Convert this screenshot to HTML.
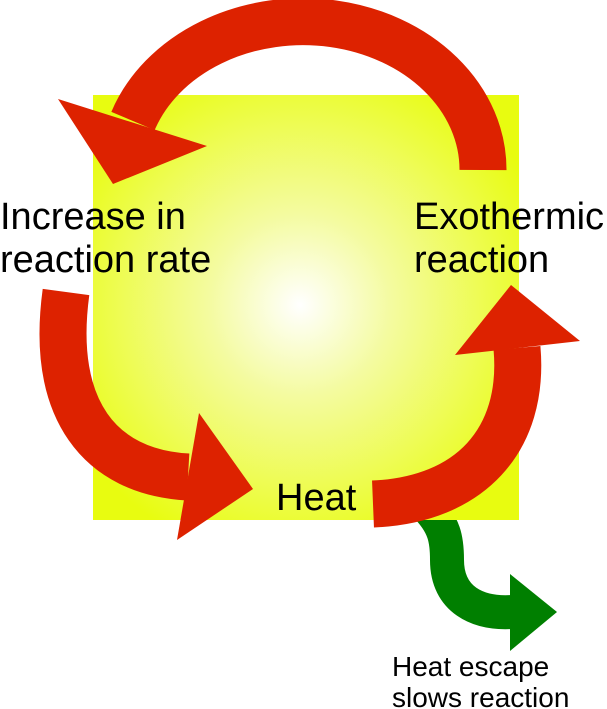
<!DOCTYPE html>
<html><head><style>
body{margin:0;background:#fff;}
svg{display:block}
text{font-family:"Liberation Sans",sans-serif;fill:#000}
</style></head><body>
<svg width="607" height="709" viewBox="0 0 607 709">
<defs>
<radialGradient id="g" cx="300" cy="305" r="260" gradientUnits="userSpaceOnUse">
<stop offset="0" stop-color="#ffffff"/>
<stop offset="0.35" stop-color="#f4fba0"/>
<stop offset="1" stop-color="#e8fc10"/>
</radialGradient>
</defs>
<path d="M425,505 C445,525 447,540 447,560 C447,600 478,614 512,612" fill="none" stroke="#007f00" stroke-width="34"/>
<polygon points="510,574 557,612 510,651" fill="#007f00"/>
<rect x="93" y="95" width="426" height="425" fill="url(#g)"/>
<g fill="none" stroke="#dd2200" stroke-width="47">
<path d="M483,170 A180,148 0 0 0 133,121"/>
<path d="M66,292 C50,410 100,472 188,477"/>
<path d="M373,504 C470,500 525,440 517,348"/>
</g>
<g fill="#dd2200">
<polygon points="58,99 113,184 207,146"/>
<polygon points="199,413 253,489 177,540"/>
<polygon points="455,355 511,285 580,341"/>
</g>
<g font-size="38">
<text x="0" y="229">Increase in</text>
<text x="0" y="272">reaction rate</text>
<text x="414" y="229">Exothermic</text>
<text x="414" y="272">reaction</text>
<text x="276" y="510">Heat</text>
</g>
<g font-size="28">
<text x="392" y="676">Heat escape</text>
<text x="392" y="707">slows reaction</text>
</g>
</svg>
</body></html>
